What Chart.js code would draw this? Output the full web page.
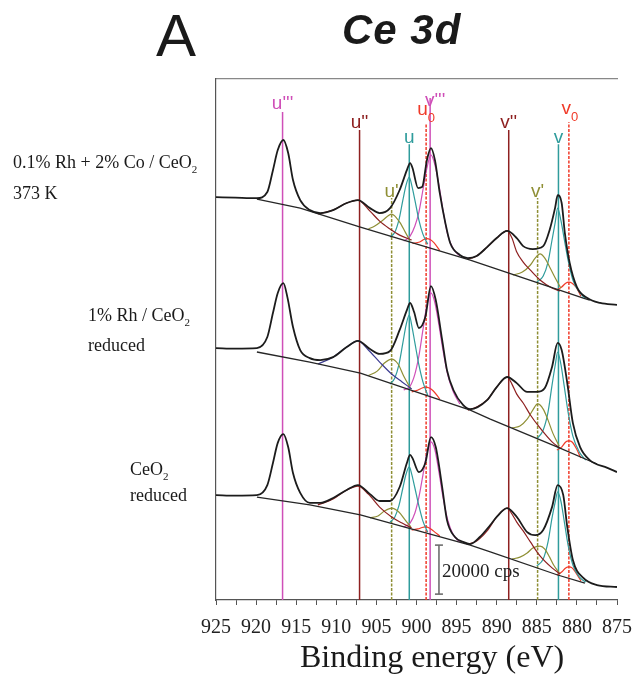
<!DOCTYPE html>
<html>
<head>
<meta charset="utf-8">
<script src="https://cdn.jsdelivr.net/npm/chart.js@4.4.0/dist/chart.umd.min.js"></script>
<style>
  html, body { margin: 0; padding: 0; background: #fff; }
  #wrap { position: relative; width: 633px; height: 678px; }
  #chartCe3d { position: absolute; left: 0; top: 0; }
  .txt { position: absolute; white-space: nowrap; color: #1a1a1a; }
  .serif { font-family: "Liberation Serif", "Times New Roman", serif; font-size: 18px; line-height: 18px; }
  .serif .sub { font-size: 11px; position: relative; top: 5px; }
  #panel { font-family: "Liberation Sans", Arial, sans-serif; font-size: 60px; line-height: 60px; left: 156px; top: 6px; }
  #title { font-family: "Liberation Sans", Arial, sans-serif; font-size: 42px; line-height: 42px; font-weight: bold; font-style: italic; left: 342px; top: 9px; letter-spacing: 1px; }
  #xtitle { font-family: "Liberation Serif", "Times New Roman", serif; font-size: 32px; line-height: 32px; left: 300px; top: 640px; }
</style>
</head>
<body>
<div id="wrap">
  <canvas id="chartCe3d" width="633" height="678"></canvas>
  <div class="txt" id="panel">A</div>
  <div class="txt" id="title">Ce 3d</div>
  <div class="txt serif" style="left:13px; top:153px;">0.1% Rh + 2% Co / CeO<span class="sub">2</span></div>
  <div class="txt serif" style="left:13px; top:184px;">373 K</div>
  <div class="txt serif" style="left:88px; top:306px;">1% Rh / CeO<span class="sub">2</span></div>
  <div class="txt serif" style="left:88px; top:336px;">reduced</div>
  <div class="txt serif" style="left:130px; top:460px;">CeO<span class="sub">2</span></div>
  <div class="txt serif" style="left:130px; top:486px;">reduced</div>
  <div class="txt" id="xtitle">Binding energy (eV)</div>
</div>
<script>
// binding energy (eV) vs intensity (kcps), spectra stacked as in the figure
const energyTicks = [925, 920, 915, 910, 905, 900, 895, 890, 885, 880, 875]

const peakNames = ["u'''", "u''", "u'", 'u0', "v'''", "v''", "v'", 'v', 'v0', 'u']
const peakEnergies = [916.7, 907.1, 903.1, 898.8, 898.3, 888.5, 884.9, 882.3, 881.0, 900.9]

// 0.1% Rh + 2% Co / CeO2, 373 K
const topEnvelope = [[925,164.4],[922.6,164.2],[919.9,164.0],[918.6,166.5],[917.9,175.4],[917.3,183.6],[916.6,187.7],[916.0,182.4],[915.4,171.4],[914.5,163.2],[913.3,159.1],[912.0,157.9],[910.4,159.1],[908.7,162.0],[907.3,163.2],[905.8,159.9],[904.6,157.9],[903.3,159.9],[902.1,167.3],[901.2,175.4],[900.8,178.3],[900.5,176.3],[899.8,168.1],[899.3,168.5],[898.7,179.5],[898.2,184.4],[897.7,179.5],[897.1,166.1],[896.4,153.8],[895.8,145.7],[894.6,140.8],[893.6,139.5],[892.5,140.4],[891.2,144.0],[890.0,147.7],[888.7,150.6],[887.5,147.7],[886.7,144.4],[885.5,143.2],[884.2,144.4],[883.4,151.0],[882.7,160.3],[882.4,165.2],[881.9,162.0],[881.5,149.7],[880.9,137.5],[880.0,127.7],[878.7,123.2],[877.1,121.2],[875,120.4]]
const topBackground = [[919.9,163.6],[914.5,159.9],[907.0,152.2],[893.3,138.7],[890.8,135.9],[879.2,123.2],[878.4,122.4]]
const topUpp = [[912.3,157.5],[910.4,159.1],[908.7,162.0],[907.3,163.2],[905.8,158.7],[904.6,154.6],[903.3,151.4],[902.1,148.9],[900.6,146.9]]
const topUp = [[906.0,151.4],[905.2,152.6],[904.2,155.0],[903.1,157.5],[902.1,154.2],[901.4,150.1],[900.8,146.5]]
const topU = [[903.3,148.1],[902.7,150.1],[902.2,155.0],[901.7,163.2],[901.3,169.3],[900.9,172.6],[900.6,169.3],[900.2,163.2],[899.7,155.0],[899.2,149.3],[898.6,145.2]]
const topU0 = [[900.5,145.5],[899.6,146.1],[899.1,147.1],[898.7,147.5],[898.3,147.1],[897.8,145.7],[897.1,142.6]]
const topVppp = [[901.6,146.5],[900.8,148.5],[900.2,152.6],[899.7,158.3],[899.2,167.3],[898.7,176.3],[898.2,181.6],[897.7,177.5],[897.2,169.3],[896.7,159.1],[896.1,148.9],[895.4,143.2],[894.6,140.4]]
const topVpp = [[893.6,139.1],[892.5,140.4],[891.2,144.0],[890.0,147.7],[888.7,150.6],[888.1,147.7],[887.5,142.0],[886.7,137.9],[885.8,134.6],[884.6,130.6],[883.1,127.3],[882.1,126.1]]
const topVp = [[888.0,132.6],[886.8,133.8],[885.8,136.7],[885.2,139.5],[884.6,141.2],[884.0,139.5],[883.4,135.9],[882.7,131.4],[882.0,127.3]]
const topV = [[885.0,129.7],[884.2,132.2],[883.6,137.9],[883.1,146.9],[882.7,154.2],[882.4,159.9],[882.0,155.0],[881.6,147.7],[881.1,138.7],[880.5,130.6],[879.7,125.7],[879.0,123.2]]
const topV0 = [[882.5,126.5],[881.9,127.7],[881.4,129.3],[881.0,129.7],[880.6,129.3],[880.1,127.7],[879.5,124.0]]

// 1% Rh / CeO2 reduced
const midEnvelope = [[925,102.8],[922.6,102.6],[919.9,102.8],[918.6,107.3],[917.9,117.1],[917.3,125.3],[916.6,129.3],[916.1,123.6],[915.4,111.4],[914.5,102.0],[913.3,98.7],[912.0,97.9],[910.4,99.1],[908.7,103.2],[907.3,105.7],[905.8,102.4],[904.6,100.4],[903.3,101.6],[902.1,110.2],[901.2,118.3],[900.8,121.2],[900.3,117.5],[899.7,111.0],[898.9,115.5],[898.2,128.1],[897.6,122.4],[896.8,106.1],[896.2,93.8],[895.4,85.7],[894.2,79.6],[893.3,77.9],[891.2,81.6],[890.0,86.9],[888.7,91.0],[887.5,88.5],[886.2,84.9],[885.0,84.9],[884.0,86.5],[883.1,95.1],[882.4,104.9],[881.9,102.0],[881.2,88.5],[880.5,72.2],[879.6,62.4],[878.4,57.1],[876.2,53.9],[875,52.2]]
const midBackground = [[919.9,101.2],[913.3,97.1],[907.0,92.6],[893.3,77.5],[890.8,73.8],[882.4,62.4],[877.5,55.5]]
const midUpp = [[912.3,96.3],[910.4,99.1],[908.7,103.2],[907.3,105.7],[906.0,102.0],[904.6,97.1],[903.1,92.2],[901.8,89.0],[900.6,86.1]]
const midUp = [[906.0,91.6],[904.9,93.4],[904.0,96.7],[903.1,98.3],[902.3,96.3],[901.6,91.4],[900.7,86.1]]
const midU = [[903.3,88.1],[902.7,90.6],[902.2,95.9],[901.7,104.9],[901.3,112.2],[900.9,116.3],[900.6,112.2],[900.2,104.9],[899.7,95.9],[899.2,89.0],[898.6,83.6]]
const midU0 = [[900.6,84.9],[899.8,85.7],[899.3,86.5],[898.9,86.9],[898.4,86.5],[897.9,85.3],[897.1,82.0]]
const midVppp = [[901.6,85.7],[900.8,87.3],[900.2,92.2],[899.7,99.6],[899.2,110.2],[898.7,120.4],[898.2,125.3],[897.7,121.2],[897.2,112.2],[896.7,102.0],[896.1,91.8],[895.4,84.9],[894.6,80.0]]
const midVpp = [[893.6,77.5],[892.5,78.7],[891.2,81.6],[890.0,86.9],[888.7,91.0],[888.1,88.1],[887.5,84.0],[886.7,80.4],[885.8,75.5],[884.6,70.2],[883.1,64.5],[882.1,62.0]]
const midVp = [[888.1,70.2],[887.1,71.0],[886.2,73.8],[885.5,77.5],[884.9,80.0],[884.2,77.9],[883.6,73.4],[883.0,68.1],[882.2,62.8]]
const midV = [[885.0,65.7],[884.2,69.4],[883.6,76.7],[883.1,87.7],[882.7,95.9],[882.4,101.2],[882.0,96.3],[881.6,87.7],[881.1,76.7],[880.5,66.9],[879.7,60.4],[878.9,57.1]]
const midV0 = [[882.5,61.2],[881.9,62.4],[881.4,64.5],[881.0,64.9],[880.6,64.5],[880.1,62.0],[879.5,57.9]]

// CeO2 reduced
const botEnvelope = [[925,42.8],[922.6,42.6],[919.9,42.8],[918.6,46.9],[917.9,55.9],[917.3,64.1],[916.6,67.7],[916.0,62.4],[915.4,51.8],[914.5,43.7],[913.3,39.6],[912.0,39.6],[910.4,41.6],[908.7,44.9],[907.3,46.9],[905.8,43.2],[904.6,40.4],[903.3,40.4],[902.1,46.1],[901.2,55.9],[900.8,59.2],[900.5,57.9],[899.7,52.2],[898.9,55.9],[898.2,66.5],[897.6,62.4],[896.8,46.1],[896.2,32.6],[895.2,25.7],[894.2,23.7],[893.3,22.8],[892.1,25.7],[890.8,30.6],[890.0,33.9],[888.7,37.5],[887.5,33.9],[886.2,27.7],[885.2,26.5],[884.2,28.6],[883.1,37.9],[882.4,46.9],[881.7,42.8],[881.2,29.8],[880.5,16.3],[879.2,9.0],[877.5,6.1],[875,5.3]]
const botBackground = [[919.9,42.0],[913.3,38.8],[907.0,34.7],[893.3,22.4],[890.8,19.6],[882.4,10.2],[879.0,6.9]]
const botUpp = [[912.3,38.8],[910.4,41.2],[908.7,44.9],[907.3,46.5],[906.0,43.2],[904.6,37.9],[903.1,33.9],[901.8,31.4],[900.6,29.4]]
const botUp = [[905.8,33.5],[904.8,34.3],[904.0,36.3],[903.1,37.5],[902.2,35.9],[901.4,32.6],[900.7,29.8]]
const botU = [[903.3,31.8],[902.7,33.9],[902.2,38.4],[901.7,45.7],[901.3,51.4],[900.9,54.3],[900.6,51.4],[900.2,45.7],[899.7,38.4],[899.2,32.2],[898.6,27.7]]
const botU0 = [[900.6,28.6],[899.8,29.0],[899.3,29.6],[898.9,29.8],[898.4,29.4],[897.9,28.2],[897.1,26.1]]
const botVppp = [[901.6,29.8],[900.8,31.4],[900.2,35.5],[899.7,42.0],[899.2,51.0],[898.7,60.0],[898.2,64.5],[897.7,61.2],[897.2,52.2],[896.7,42.0],[896.1,32.6],[895.4,26.5],[894.6,23.7]]
const botVpp = [[893.6,22.8],[892.5,24.1],[891.2,28.2],[890.0,33.9],[888.7,37.5],[888.1,35.1],[887.5,31.8],[886.7,28.2],[885.8,23.7],[884.6,18.0],[883.1,13.1],[882.1,10.6]]
const botVp = [[888.1,16.7],[887.1,17.5],[886.2,19.2],[885.5,21.2],[884.6,22.0],[884.0,20.8],[883.4,17.5],[882.9,14.3],[882.1,10.6]]
const botV = [[885.0,13.9],[884.2,16.7],[883.6,23.7],[883.1,33.5],[882.7,40.0],[882.4,44.1],[882.0,40.4],[881.6,32.6],[881.1,22.4],[880.5,14.3],[879.7,9.4],[878.9,7.3]]
const botV0 = [[882.5,10.2],[881.9,11.4],[881.4,13.1],[881.0,13.5],[880.6,13.1],[880.1,11.0],[879.5,7.8]]

// 20000 cps scale bar
const scaleBarEnergy = 897.2
const scaleBarRange = [2.4, 22.4]
const scaleBarLabel = '20000 cps'

const colors = {
    magenta: '#cf4fb8',
    brown: '#8e2020',
    olive: '#8f8f35',
    teal: '#2f9c9c',
    red: '#f03a28',
    navy: '#3c3c92'
}
const peakColors = {
    "u'''": colors.magenta, "u''": colors.brown, "u'": colors.olive, 'u': colors.teal, 'u0': colors.red,
    "v'''": colors.magenta, "v''": colors.brown, "v'": colors.olive, 'v': colors.teal, 'v0': colors.red
}

const toXY = arr => arr.map(p => ({ x: p[0], y: p[1] }))

function curve(points, color, width, order) {
    return {
        data: toXY(points),
        borderColor: color,
        borderWidth: width,
        pointRadius: 0,
        fill: false,
        cubicInterpolationMode: 'monotone',
        order: order
    }
}

let datasets = []

// marker lines behind everything
let lineTop = { "u'''": 199.1, "u''": 191.8, "u'": 164.0, 'u': 186.0, 'u0': 194.6, "v'''": 204.8, "v''": 191.8, "v'": 164.0, 'v': 186.0, 'v0': 195.0 }
peakNames.forEach((name, i) => {
    let dashed = name == "u'" || name == "v'" || name == 'u0' || name == 'v0'
    datasets.push({
        data: [{ x: peakEnergies[i], y: 0 }, { x: peakEnergies[i], y: lineTop[name] }],
        borderColor: peakColors[name],
        borderWidth: 1.5,
        borderDash: dashed ? [3, 1.5] : [],
        pointRadius: 0,
        order: 6
    })
})

let spectra = [
    { env: topEnvelope, bg: topBackground, comps: [[topUpp, colors.brown], [topUp, colors.olive], [topU, colors.teal], [topU0, colors.red], [topVppp, colors.magenta], [topVpp, colors.brown], [topVp, colors.olive], [topV, colors.teal], [topV0, colors.red]] },
    { env: midEnvelope, bg: midBackground, comps: [[midUpp, colors.navy], [midUp, colors.olive], [midU, colors.teal], [midU0, colors.red], [midVppp, colors.magenta], [midVpp, colors.brown], [midVp, colors.olive], [midV, colors.teal], [midV0, colors.red]] },
    { env: botEnvelope, bg: botBackground, comps: [[botUpp, colors.brown], [botUp, colors.olive], [botU, colors.teal], [botU0, colors.red], [botVppp, colors.magenta], [botVpp, colors.brown], [botVp, colors.olive], [botV, colors.teal], [botV0, colors.red]] }
]
spectra.forEach(s => {
    s.comps.forEach(c => datasets.push(curve(c[0], c[1], 1.2, 3)))
    let bg = curve(s.bg, '#262626', 1.3, 2)
    bg.cubicInterpolationMode = 'default'
    bg.tension = 0
    datasets.push(bg)
    datasets.push(curve(s.env, '#1c1c1c', 1.8, 0))
})

// scale bar with end caps
datasets.push({
    data: [{ x: scaleBarEnergy, y: scaleBarRange[0] }, { x: scaleBarEnergy, y: scaleBarRange[1] }],
    borderColor: '#6e6e6e',
    borderWidth: 1.6,
    pointStyle: 'line',
    pointRadius: 4,
    pointBorderColor: '#6e6e6e',
    pointBorderWidth: 1.6,
    order: 1
})

const labelLevel = { "u'''": 200.3, "u''": 192.6, "u'": 164.4, 'u': 186.5, 'u0': 197.9, "v'''": 201.6, "v''": 192.6, "v'": 164.4, 'v': 186.5, 'v0': 198.3 }
const labelShift = { "v'''": 5, 'v0': 1 }

const textPlugin = {
    id: 'peakText',
    afterDatasetsDraw(chart) {
        const { ctx, scales: { x, y } } = chart
        ctx.save()
        ctx.textBaseline = 'alphabetic'
        peakNames.forEach((name, i) => {
            let px = x.getPixelForValue(peakEnergies[i]) + (labelShift[name] || 0)
            let py = y.getPixelForValue(labelLevel[name])
            ctx.fillStyle = peakColors[name]
            if (name.endsWith('0')) {
                let base = name.slice(0, -1)
                ctx.font = '19px "Liberation Sans"'
                let w = ctx.measureText(base).width
                ctx.font = '13px "Liberation Sans"'
                let ws = ctx.measureText('0').width
                let start = px - (w + ws) / 2
                ctx.textAlign = 'left'
                ctx.font = '19px "Liberation Sans"'
                ctx.fillText(base, start, py)
                ctx.font = '13px "Liberation Sans"'
                ctx.fillText('0', start + w, py + 7)
            } else {
                ctx.textAlign = 'center'
                ctx.font = '19px "Liberation Sans"'
                ctx.fillText(name, px, py)
            }
        })
        // scale bar label
        ctx.fillStyle = '#222'
        ctx.font = '19px "Liberation Serif"'
        ctx.textAlign = 'left'
        ctx.textBaseline = 'middle'
        let bx = x.getPixelForValue(scaleBarEnergy) + 3
        let by = (y.getPixelForValue(scaleBarRange[0]) + y.getPixelForValue(scaleBarRange[1])) / 2
        ctx.fillText(scaleBarLabel, bx, by + 2)
        ctx.restore()
    }
}

new Chart(document.getElementById('chartCe3d'), {
    type: 'line',
    data: { datasets: datasets },
    options: {
        responsive: false,
        animation: false,
        layout: { padding: { top: 79, right: 16, left: 0, bottom: 0 } },
        plugins: {
            legend: { display: false },
            tooltip: { enabled: false }
        },
        scales: {
            x: {
                type: 'linear',
                min: 875,
                max: 925,
                reverse: true,
                position: 'bottom',
                ticks: {
                    stepSize: 2.5,
                    autoSkip: false,
                    maxRotation: 0,
                    padding: 11,
                    color: '#222',
                    font: { family: '"Liberation Serif"', size: 20 },
                    callback: v => energyTicks.includes(v) ? String(v) : ''
                },
                grid: { display: true, drawOnChartArea: false, tickLength: 5, color: '#555' },
                border: { color: '#555', width: 1.2 },
                afterFit(s) { s.height = 78; s.paddingLeft = 0; s.paddingRight = 0 }
            },
            xTop: {
                type: 'linear',
                min: 875,
                max: 925,
                reverse: true,
                position: 'top',
                ticks: { display: false },
                grid: { display: false },
                border: { color: '#888', width: 1.2 },
                afterFit(s) { s.height = 0 }
            },
            y: {
                min: 0,
                max: 212.6,
                ticks: { display: false },
                grid: { display: false },
                border: { color: '#555', width: 1.2 },
                afterFit(s) { s.width = 216 }
            }
        }
    },
    plugins: [textPlugin]
})
</script>
</body>
</html>
